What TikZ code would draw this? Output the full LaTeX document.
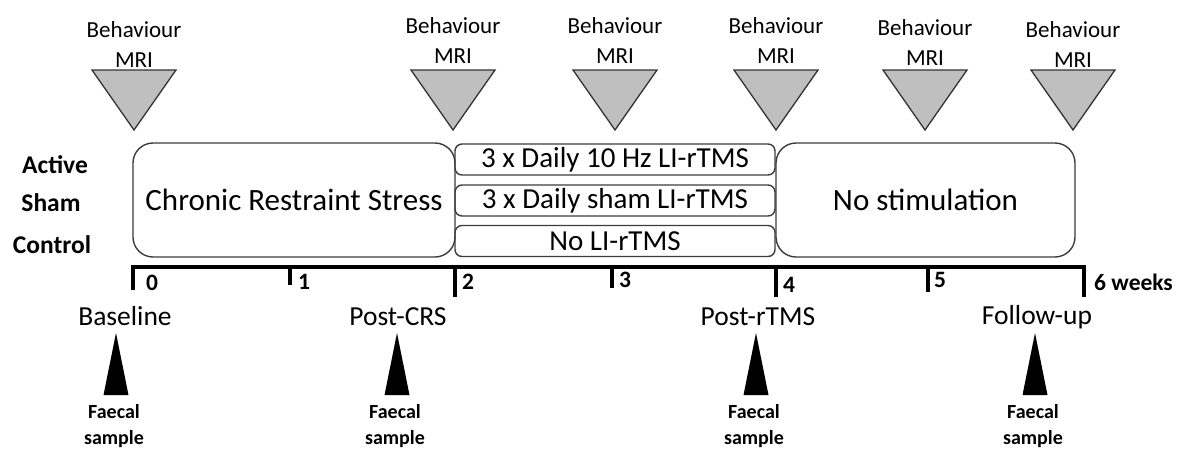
\documentclass[tikz,border=0pt]{standalone}
\usepackage{fontspec}
\setmainfont{Carlito}
\definecolor{trigray}{RGB}{191,191,191}
\definecolor{boxline}{RGB}{60,60,60}
\begin{document}
\begin{tikzpicture}[x=1pt,y=-1pt,
  txt/.style={inner sep=0pt,anchor=base,font=\fontsize{23}{25}\selectfont},
  btxt/.style={inner sep=0pt,font=\fontsize{25.5}{27}\selectfont\bfseries},
  ftxt/.style={inner sep=0pt,anchor=base,font=\fontsize{20}{22}\selectfont\bfseries},
  numtxt/.style={inner sep=0pt,anchor=west,font=\fontsize{23.5}{25}\selectfont\bfseries},
  ptxt/.style={inner sep=0pt,anchor=base,font=\fontsize{27.5}{29}\selectfont},
  gtri/.style={draw=black!80,line width=1.3pt,fill=trigray,line join=miter},
  ktri/.style={fill=black},
  bigbox/.style={draw=boxline,line width=1.4pt,rounded corners=20pt,inner sep=0pt,minimum width=#1,minimum height=114pt,font=\fontsize{31}{33}\selectfont},
  smallbox/.style={draw=boxline,line width=1.4pt,rounded corners=7pt,inner sep=0pt,minimum width=320pt,minimum height=31pt,font=\fontsize{29}{31}\selectfont},
  axis/.style={line width=4pt,line cap=butt}]
\useasboundingbox (0,0) rectangle (1183,448);

% top markers
\foreach \c/\by/\my [count=\i] in {134/37/67, 453/33/63, 615/33/63, 776/33/63, 925/35/65, 1073/37/67}{
  \draw[gtri] (\c-42,70) -- (\c+42,70) -- (\c,130) -- cycle;
  \node[txt] (beh\i) at (\c,\by) {Behaviour};
  \node[txt] (mri\i) at (\c,\my) {MRI};
}

% group labels
\node[btxt] (active) at (55,165) {Active};
\node[btxt] (sham) at (51,203) {Sham};
\node[btxt] (control) at (52,245) {Control};

% boxes
\node[bigbox=322pt] (crs) at (294,200) {Chronic Restraint Stress};
\node[smallbox] (act) at (615,159.5) {3 x Daily 10 Hz LI-rTMS};
\node[smallbox] (shm) at (615,200.5) {3 x Daily sham LI-rTMS};
\node[smallbox] (ctl) at (615,241) {No LI-rTMS};
\node[bigbox=299pt] (nostim) at (925.5,200) {No stimulation};

% axis
\draw[axis] (133,290) -- (133,267) -- (1084,267) -- (1084,297);
\draw[axis] (290,267) -- (290,285);
\draw[axis] (455,267) -- (455,297);
\draw[axis] (612,267) -- (612,288);
\draw[axis] (776,267) -- (776,297);
\draw[axis] (928,267) -- (928,292);
\node[numtxt] (n0) at (146,283) {0};
\node[numtxt] (n1) at (298,282) {1};
\node[numtxt] (n2) at (462,282) {2};
\node[numtxt] (n3) at (619,280) {3};
\node[numtxt] (n4) at (783,285) {4};
\node[numtxt] (n5) at (934,280) {5};
\node[numtxt] (n6) at (1094,282) {6 weeks};

% time points
\node[ptxt] (base) at (125,325) {Baseline};
\node[ptxt] (pcrs) at (398,325) {Post-CRS};
\node[ptxt] (ptms) at (758,325) {Post-rTMS};
\node[ptxt] (fup) at (1037,324) {Follow-up};

% faecal markers
\foreach \c [count=\i] in {116, 397, 756, 1035}{
  \fill[ktri] (\c-12.5,395) -- (\c+12.5,395) -- (\c,333) -- cycle;
  \node[ftxt] (fa\i) at (\c-2,418) {Faecal};
  \node[ftxt] (sa\i) at (\c-2,444) {sample};
}
\end{tikzpicture}
\end{document}
